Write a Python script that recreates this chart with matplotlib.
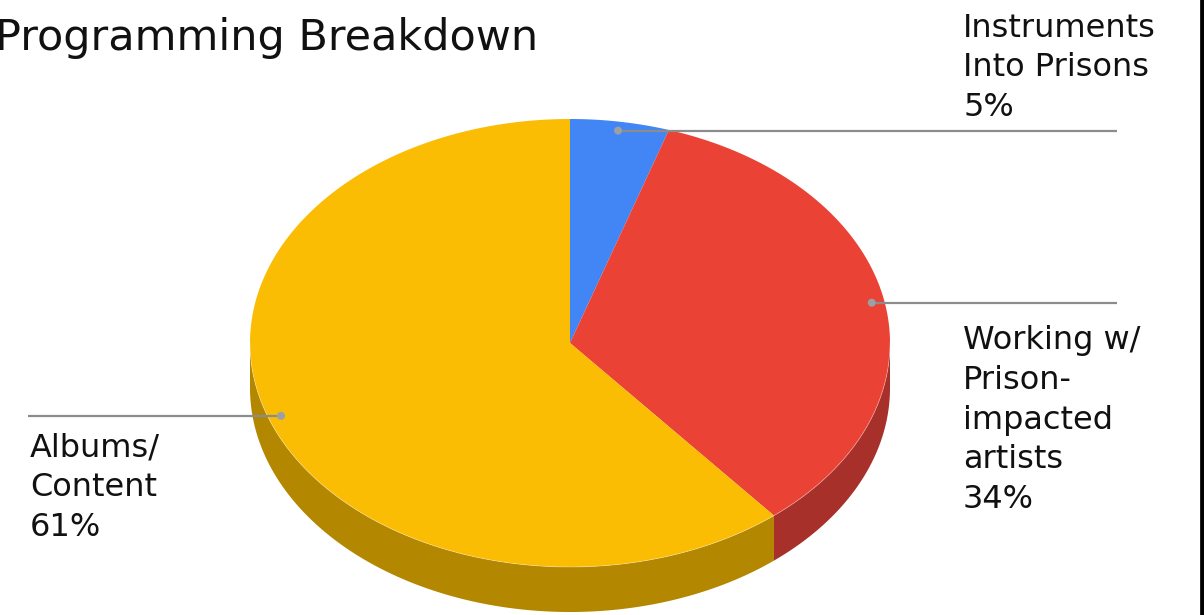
import numpy as np
import matplotlib
matplotlib.use("Agg")
import matplotlib.pyplot as plt
from matplotlib.patches import Polygon, Circle

# ---- data ----
categories = ["Instruments\nInto Prisons", "Working w/\nPrison-\nimpacted\nartists", "Albums/\nContent"]
values = [5, 34, 61]
top_colors = ["#4285F4", "#EA4335", "#FBBC04"]
side_colors = ["#2F5FAE", "#A8302A", "#B48700"]
title = "Programming Breakdown"

# ---- layout ----
W, H = 1204, 615
fig = plt.figure(figsize=(W / 100, H / 100), dpi=100)
ax = fig.add_axes([0, 0, 1, 1])
ax.set_xlim(0, W)
ax.set_ylim(H, 0)
ax.axis("off")

cx, cy, rx, ry, depth = 570, 343, 320, 224, 45
FONT = "DejaVu Sans"


def pt(theta_deg, f=1.0, dy=0.0):
    t = np.radians(theta_deg)
    return cx + f * rx * np.sin(t), cy - f * ry * np.cos(t) + dy


vals = np.array(values, dtype=float)
fr = vals / vals.sum()
edges = np.concatenate([[0], np.cumsum(fr) * 360])

# side walls (visible front part: 90..270 deg, clockwise from top)
for i in range(len(values)):
    a0, a1 = max(edges[i], 90), min(edges[i + 1], 270)
    if a1 <= a0:
        continue
    th = np.linspace(a0, a1, 200)
    topx, topy = pt(th)
    botx, boty = pt(th[::-1], dy=depth)
    poly = np.column_stack([np.concatenate([topx, botx]), np.concatenate([topy, boty])])
    ax.add_patch(Polygon(poly, closed=True, facecolor=side_colors[i], edgecolor="none", zorder=1))

# top faces
for i in range(len(values)):
    th = np.linspace(edges[i], edges[i + 1], 300)
    x, y = pt(th)
    poly = np.column_stack([np.concatenate([[cx], x]), np.concatenate([[cy], y])])
    ax.add_patch(Polygon(poly, closed=True, facecolor=top_colors[i], edgecolor="none", zorder=2))

# subtle rim highlight on front
th = np.linspace(90, 270, 300)
x, y = pt(th)
ax.plot(x, y, color="white", lw=0.6, alpha=0.35, zorder=3)

# leader lines + labels
label_fs = 23
for i in range(len(values)):
    mid = (edges[i] + edges[i + 1]) / 2
    dx, dyy = pt(mid, f=0.96)
    right = np.sin(np.radians(mid)) >= 0
    x_end = 1117 if right else 28
    ax.plot([dx, x_end], [dyy, dyy], color="#8c8c8c", lw=1.6, zorder=4, solid_capstyle="butt")
    ax.add_patch(Circle((dx, dyy), 4, facecolor="#9aa0a6", edgecolor="none", zorder=5))
    txt = f"{categories[i]}\n{values[i]}%"
    # anchored on the baseline of the last line
    if i == 0:
        tx, ty = 963, 116
    elif i == 1:
        tx, ty = 963, 508
    else:
        tx, ty = 30, 536
    ax.text(tx, ty, txt, ha="left", va="baseline", fontsize=label_fs, family=FONT,
            color="#111111", linespacing=1.36, zorder=6)

# title
ax.text(-5, 50, title, ha="left", va="baseline", fontsize=31, family=FONT, color="#111111")

# right border
ax.axvline(1201.7, color="black", lw=3.4)

fig.savefig("out.png", dpi=100)
